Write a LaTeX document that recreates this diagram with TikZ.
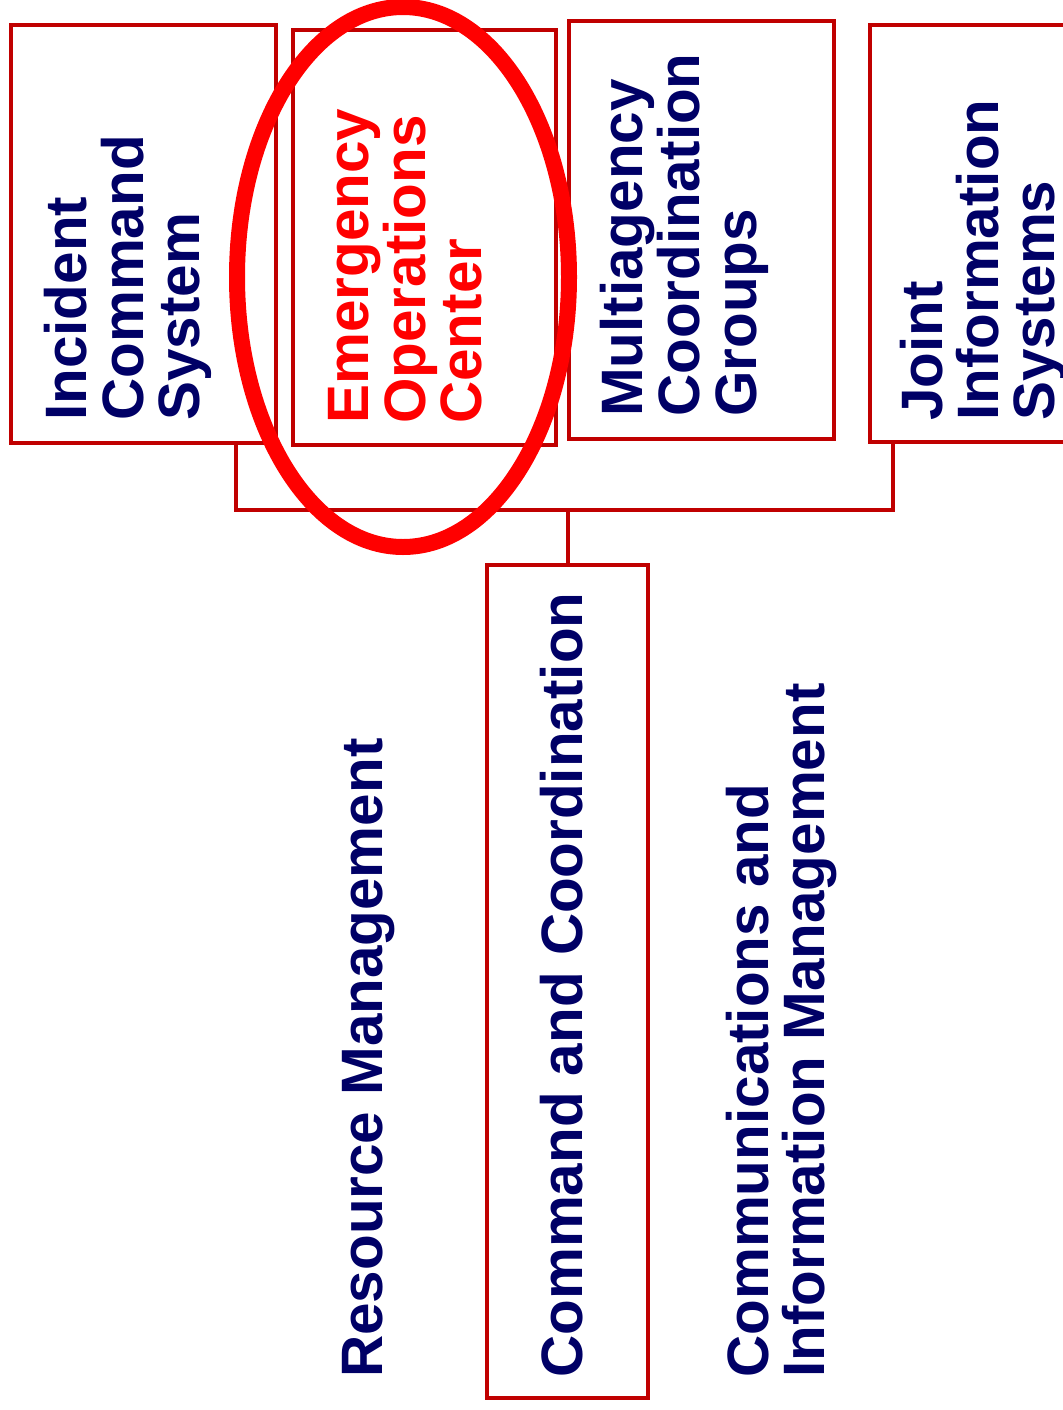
\documentclass[tikz,border=0pt]{standalone}
\usepackage{fontspec}
\setmainfont{Liberation Sans}
\definecolor{boxred}{RGB}{192,0,0}
\definecolor{navytxt}{RGB}{0,0,102}
\definecolor{brightred}{RGB}{255,0,0}
\begin{document}
\begin{tikzpicture}[x=0.75pt,y=-0.75pt,
  box/.style={draw=boxred,line width=3pt,inner sep=0pt,fill=none},
  lbl/.style={text=navytxt,font=\bfseries\fontsize{43.8}{44}\selectfont,inner sep=0pt,anchor=base west,rotate=90},
  eoclbl/.style={lbl,text=brightred},
  conn/.style={draw=boxred,line width=3pt,line cap=rect}]
\clip (0,0) rectangle (1063,1410);
\fill[white] (0,0) rectangle (1063,1410);
% boxes
\node[box,minimum width=198.75pt,minimum height=313.5pt] (ics) at (143.5,234) {};
\node[box,minimum width=197.25pt,minimum height=311.25pt] (eoc) at (424.5,237.5) {};
\node[box,minimum width=198.75pt,minimum height=313.5pt] (mac) at (701.5,230) {};
\node[box,minimum width=187.5pt,minimum height=312.75pt] (jis) at (995,233.5) {};
\node[box,minimum width=120.75pt,minimum height=624.75pt] (cc) at (567.5,981.5) {};
% labels in top boxes
\node[lbl] (ics1) at (86,421) {Incident};
\node[lbl] (ics2) at (143,421) {Command};
\node[lbl] (ics3) at (199,421) {System};
\node[eoclbl] (eoc1) at (368,424) {Emergency};
\node[eoclbl] (eoc2) at (425,424) {Operations};
\node[eoclbl] (eoc3) at (481,424) {Center};
\node[lbl] (mac1) at (642,417) {Multiagency};
\node[lbl] (mac2) at (699,417) {Coordination};
\node[lbl] (mac3) at (756,417) {Groups};
\node[lbl] (jis1) at (942,421) {Joint};
\node[lbl] (jis2) at (998,421) {Information};
\node[lbl] (jis3) at (1054,421) {Systems};
% bottom labels
\node[lbl] (rm) at (382,1378) {Resource Management};
\node[lbl] (ccl) at (582,1378) {Command and Coordination};
\node[lbl] (cim1) at (768,1378) {Communications and};
\node[lbl] (cim2) at (824,1378) {Information Management};
% connectors
\coordinate (hl) at (236,510);
\coordinate (hr) at (893,510);
\draw[conn] (ics.south -| hl) -- (hl) -- (hr) -- (jis.south -| hr);
\draw[conn] (cc.north) -- (cc.north |- hl);
% highlight ellipse
\draw[draw=brightred,line width=12pt] (403,277) ellipse [x radius=166, y radius=270];
\end{tikzpicture}
\end{document}
